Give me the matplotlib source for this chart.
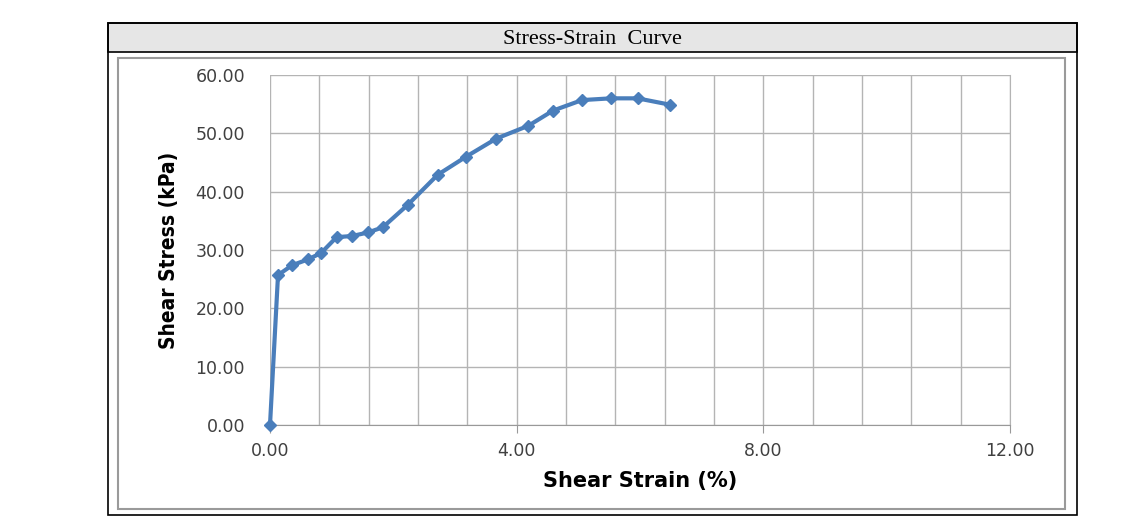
import matplotlib.pyplot as plt
from matplotlib.patches import Rectangle
from matplotlib.ticker import MultipleLocator

# shear strain (%) vs shear stress (kPa)
strain = [0.00, 0.13, 0.36, 0.62, 0.83, 1.08, 1.33, 1.59, 1.83, 2.24,
          2.72, 3.18, 3.67, 4.19, 4.59, 5.06, 5.53, 5.96, 6.49]
stress = [0.00, 25.7, 27.4, 28.4, 29.5, 32.2, 32.4, 33.0, 33.9, 37.8,
          42.9, 46.0, 49.1, 51.3, 53.9, 55.7, 56.0, 56.0, 54.9]

fig = plt.figure(figsize=(11.23, 5.25), dpi=100)
W, H = 1123, 525

def fx(px):
    return px / W

def fy(py):
    return 1 - py / H

# outer table box + title row
fig.patches.append(Rectangle((fx(108), fy(52)), fx(1077) - fx(108), fy(23) - fy(52),
                             transform=fig.transFigure, facecolor='#e6e6e6',
                             edgecolor='black', lw=1.2))
fig.patches.append(Rectangle((fx(108), fy(515)), fx(1077) - fx(108), fy(23) - fy(515),
                             transform=fig.transFigure, facecolor='none',
                             edgecolor='black', lw=1.2))
# inner chart frame
fig.patches.append(Rectangle((fx(118), fy(509)), fx(1065) - fx(118), fy(58) - fy(509),
                             transform=fig.transFigure, facecolor='none',
                             edgecolor='#9a9a9a', lw=1.5))
fig.text(fx(592), fy(39), 'Stress-Strain  Curve', ha='center', va='center',
         fontsize=16, family='Liberation Serif')

ax = fig.add_axes([fx(270), fy(425), fx(1010) - fx(270), fy(75) - fy(425)])
ax.plot(strain, stress, color='#4a7ebb', lw=3, marker='D', ms=6,
        markeredgecolor='#4a7ebb', zorder=3, clip_on=False)

ax.set_xlim(0, 12)
ax.set_ylim(0, 60)
ax.xaxis.set_major_locator(MultipleLocator(4))
ax.xaxis.set_minor_locator(MultipleLocator(0.8))
ax.yaxis.set_major_locator(MultipleLocator(10))
ax.xaxis.set_major_formatter(lambda v, p: '%.2f' % v)
ax.yaxis.set_major_formatter(lambda v, p: '%.2f' % v)
ax.grid(which='both', axis='x', color='#b4b4b4', lw=1)
ax.grid(which='major', axis='y', color='#b4b4b4', lw=1)
ax.set_axisbelow(True)
for s in ['top', 'left']:
    ax.spines[s].set_visible(False)
ax.spines['right'].set_color('#b4b4b4')
ax.spines['bottom'].set_color('#999999')
ax.tick_params(axis='x', which='major', length=6, color='#999999',
               labelsize=12.5, colors='#404040', pad=6)
ax.tick_params(axis='x', which='minor', length=0)
ax.tick_params(axis='y', length=0, labelsize=12.5, colors='#404040', pad=18)
ax.set_xlabel('Shear Strain (%)', fontsize=15, fontweight='bold', labelpad=8)
ax.set_ylabel('Shear Stress (kPa)', fontsize=15, fontweight='bold', labelpad=12,
              family='DejaVu Sans', stretch='condensed')

fig.savefig('out.png', dpi=100)
